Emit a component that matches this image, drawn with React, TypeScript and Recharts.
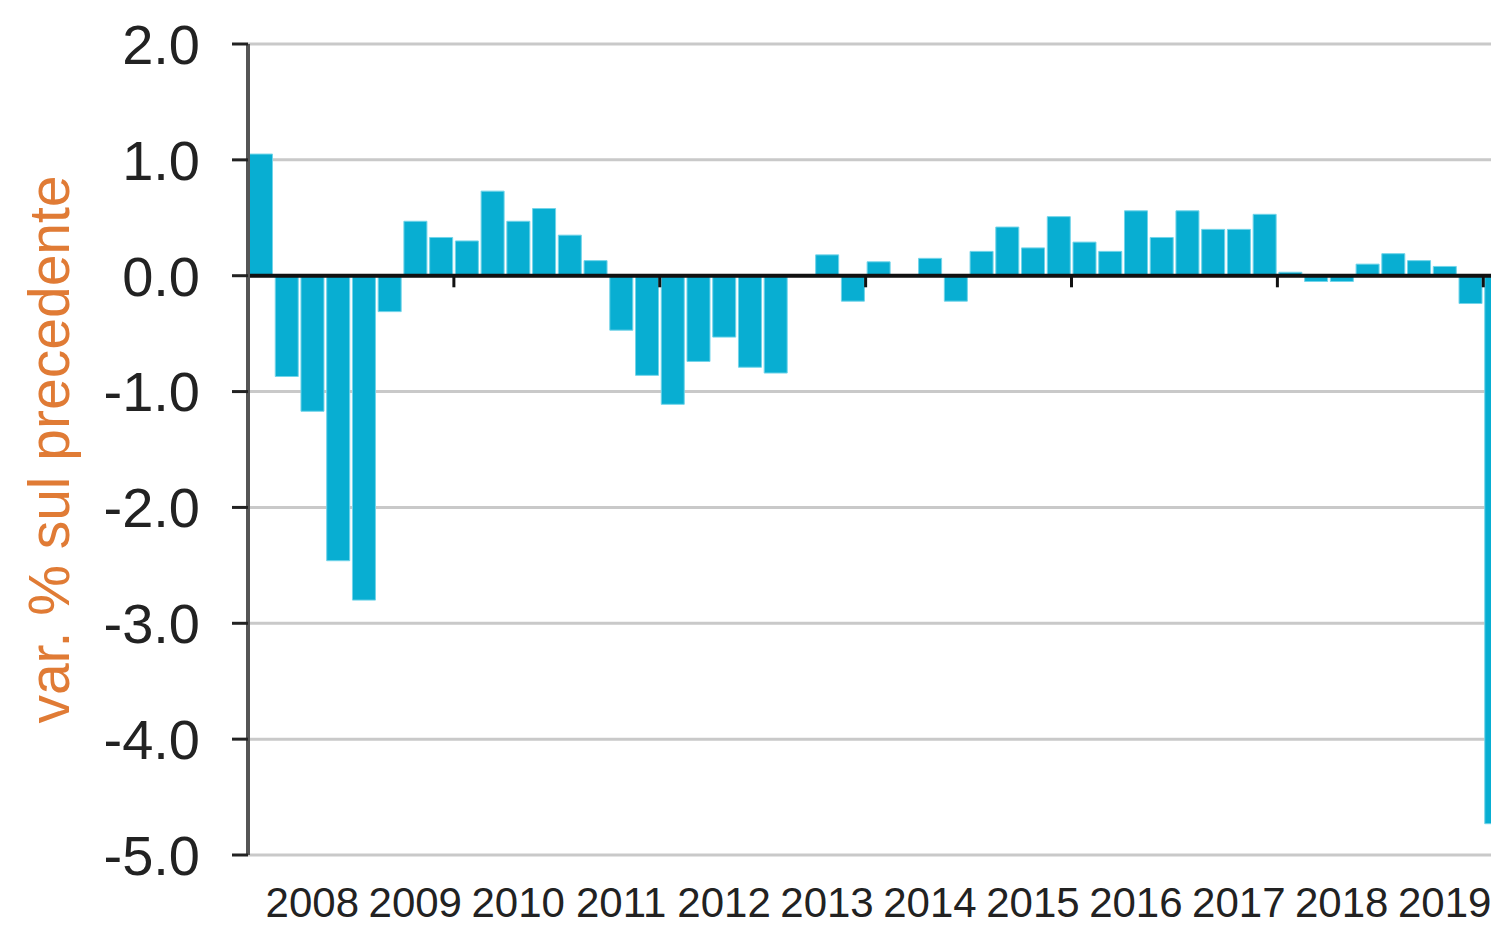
import { BarChart, Bar, XAxis, YAxis, CartesianGrid, ReferenceLine } from 'recharts'

const years = ['2008', '2009', '2010', '2011', '2012', '2013', '2014', '2015', '2016', '2017', '2018', '2019']

const quarters = [...years.flatMap((y) => ['T1', 'T2', 'T3', 'T4'].map((q) => `${y}-${q}`)), '2020-T1']

// var. % sul trimestre precedente
const variazioni = [
  1.05, -0.87, -1.17, -2.46, -2.8, -0.31, 0.47, 0.33,
  0.3, 0.73, 0.47, 0.58, 0.35, 0.13, -0.47, -0.86,
  -1.11, -0.74, -0.53, -0.79, -0.84, 0.0, 0.18, -0.22,
  0.12, 0.0, 0.15, -0.22, 0.21, 0.42, 0.24, 0.51,
  0.29, 0.21, 0.56, 0.33, 0.56, 0.4, 0.4, 0.53,
  0.03, -0.05, -0.05, 0.1, 0.19, 0.13, 0.08, -0.24,
  -4.73,
]

const yTicks = [-5, -4, -3, -2, -1, 0, 1, 2]

// trimestri dove cade la tacca biennale sull'asse dello zero
const tickQuarters = ['2010-T1', '2012-T1', '2014-T1', '2016-T1', '2018-T1', '2020-T1']

const data = quarters.map((q, i) => ({ q, v: variazioni[i] }))

const font = '"Liberation Sans", Arial, sans-serif'

function YearTick(props: any) {
  const { x, y, payload, index } = props
  if (index % 4 !== 2) return null
  return (
    <text x={x} y={y} dy={62} textAnchor="middle" fontSize={42} fill="#222" fontFamily={font}>
      {String(payload.value).slice(0, 4)}
    </text>
  )
}

export default function App() {
  return (
    <div style={{ position: 'fixed', top: 0, left: 0, width: 1491, height: 926, overflow: 'hidden', background: '#fff' }}>
      <BarChart
        width={1520}
        height={926}
        data={data}
        margin={{ top: 44, right: 11, bottom: 0, left: 0 }}
        barCategoryGap={1.5}
      >
        <CartesianGrid horizontal vertical={false} stroke="#c9c9c9" strokeWidth={3} />
        <XAxis
          dataKey="q"
          height={71}
          interval={0}
          axisLine={false}
          tickLine={false}
          tickSize={0}
          tickMargin={0}
          tick={<YearTick />}
        />
        <YAxis
          width={248}
          domain={[-5, 2]}
          ticks={yTicks}
          interval={0}
          tickFormatter={(v: number) => v.toFixed(1)}
          axisLine={{ stroke: '#555', strokeWidth: 4 }}
          tickLine={{ stroke: '#222', strokeWidth: 3 }}
          tickSize={16}
          tickMargin={32}
          tick={{ fontSize: 56, fill: '#222', fontFamily: font }}
          label={{
            value: 'var. % sul precedente',
            angle: -90,
            position: 'insideLeft',
            offset: 49,
            style: { textAnchor: 'middle', fontSize: 57, fill: '#E07B35', fontFamily: font },
          }}
        />
        <Bar dataKey="v" fill="#08AED2" stroke="#72D4E9" strokeWidth={1} isAnimationActive={false} />
        <ReferenceLine y={0} stroke="#111" strokeWidth={4} />
        {tickQuarters.map((q) => (
          <ReferenceLine
            key={q}
            position="start"
            segment={[{ x: q, y: 0 }, { x: q, y: -0.1 }]}
            stroke="#111"
            strokeWidth={3}
          />
        ))}
      </BarChart>
    </div>
  )
}
